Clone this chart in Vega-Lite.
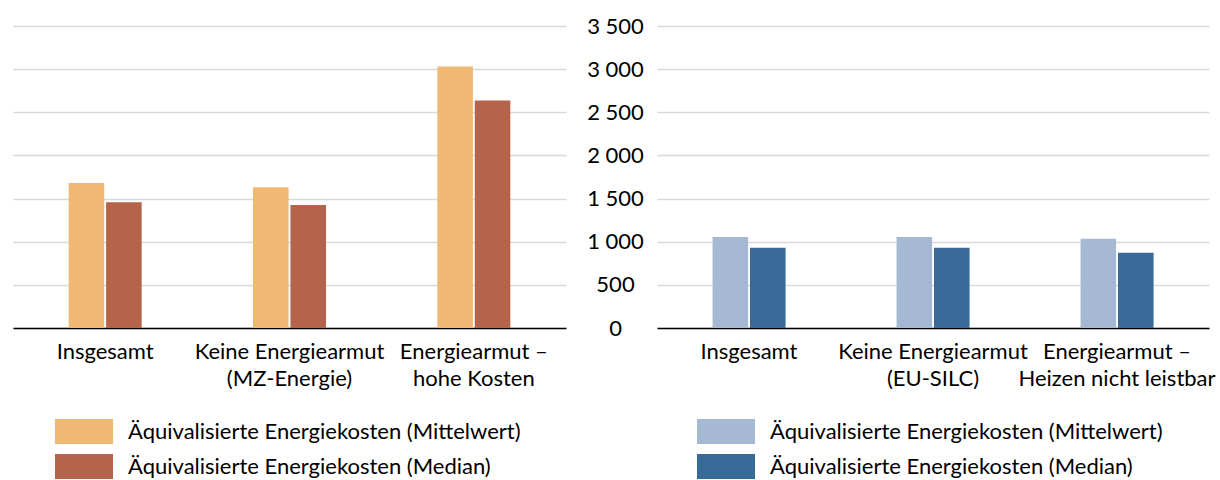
{
  "$schema": "https://vega.github.io/schema/vega-lite/v6.json",
  "padding": {"left": 13, "top": 15, "right": 5, "bottom": 0},
  "background": "white",
  "bounds": "flush",
  "spacing": 91,
  "config": {
    "view": {"stroke": null},
    "font": "Lato",
    "axis": {"labelFont": "Lato", "labelColor": "#000000", "labelFontSize": 22},
    "legend": {"labelFont": "Lato"}
  },
  "datasets": {
    "d": [
      {"panel": "MZ", "group": "Insgesamt", "series": "Äquivalisierte Energiekosten (Mittelwert)", "value": 1681},
      {"panel": "MZ", "group": "Insgesamt", "series": "Äquivalisierte Energiekosten (Median)", "value": 1457},
      {"panel": "MZ", "group": "Keine Energiearmut|(MZ-Energie)", "series": "Äquivalisierte Energiekosten (Mittelwert)", "value": 1630},
      {"panel": "MZ", "group": "Keine Energiearmut|(MZ-Energie)", "series": "Äquivalisierte Energiekosten (Median)", "value": 1426},
      {"panel": "MZ", "group": "Energiearmut –|hohe Kosten", "series": "Äquivalisierte Energiekosten (Mittelwert)", "value": 3030},
      {"panel": "MZ", "group": "Energiearmut –|hohe Kosten", "series": "Äquivalisierte Energiekosten (Median)", "value": 2637},
      {"panel": "SILC", "group": "Insgesamt", "series": "Äquivalisierte Energiekosten (Mittelwert)", "value": 1056},
      {"panel": "SILC", "group": "Insgesamt", "series": "Äquivalisierte Energiekosten (Median)", "value": 929},
      {"panel": "SILC", "group": "Keine Energiearmut|(EU-SILC)", "series": "Äquivalisierte Energiekosten (Mittelwert)", "value": 1056},
      {"panel": "SILC", "group": "Keine Energiearmut|(EU-SILC)", "series": "Äquivalisierte Energiekosten (Median)", "value": 929},
      {"panel": "SILC", "group": "Energiearmut –|Heizen nicht leistbar", "series": "Äquivalisierte Energiekosten (Mittelwert)", "value": 1033},
      {"panel": "SILC", "group": "Energiearmut –|Heizen nicht leistbar", "series": "Äquivalisierte Energiekosten (Median)", "value": 871}
    ]
  },
  "hconcat": [
    {
      "width": 553,
      "height": 302,
      "data": {"name": "d"},
      "transform": [{"filter": "datum.panel == 'MZ'"}],
      "mark": {"type": "bar"},
      "encoding": {
        "x": {
          "field": "group", "type": "nominal", "sort": null,
          "scale": {"paddingInner": 0.604, "paddingOuter": 0.302},
          "axis": {"title": null, "labelAngle": 0, "labelExpr": "split(datum.label, '|')", "ticks": false,
            "domainColor": "#000000", "domainWidth": 1.5, "labelPadding": 13, "labelLineHeight": 27,
            "labelLimit": 400, "labelOverlap": false, "grid": false}
        },
        "xOffset": {"field": "series", "type": "nominal", "sort": null, "scale": {"paddingInner": 0.05}},
        "y": {
          "field": "value", "type": "quantitative", "scale": {"domain": [0, 3500]},
          "axis": {"title": null, "labels": false, "ticks": false, "domain": false,
            "values": [0, 500, 1000, 1500, 2000, 2500, 3000, 3500], "gridColor": "#D9D9D9", "gridWidth": 1.5}
        },
        "color": {
          "field": "series", "type": "nominal",
          "scale": {"domain": ["Äquivalisierte Energiekosten (Mittelwert)", "Äquivalisierte Energiekosten (Median)"], "range": ["#EFB973", "#B5634A"]},
          "legend": {"orient": "none", "legendX": 42, "legendY": 391, "direction": "vertical", "title": null,
            "symbolType": "M-1,-0.86L3,-0.86L3,0.86L-1,0.86Z", "symbolSize": 841, "symbolStrokeWidth": 0,
            "labelFontSize": 22, "labelColor": "#000000", "labelOffset": 44, "labelLimit": 600, "padding": 0, "rowPadding": 8}
        }
      }
    },
    {
      "width": 552,
      "height": 302,
      "data": {"name": "d"},
      "transform": [{"filter": "datum.panel == 'SILC'"}],
      "mark": {"type": "bar"},
      "encoding": {
        "x": {
          "field": "group", "type": "nominal", "sort": null,
          "scale": {"paddingInner": 0.604, "paddingOuter": 0.302},
          "axis": {"title": null, "labelAngle": 0, "labelExpr": "split(datum.label, '|')", "ticks": false,
            "domainColor": "#000000", "domainWidth": 1.5, "labelPadding": 13, "labelLineHeight": 27,
            "labelLimit": 400, "labelOverlap": false, "grid": false}
        },
        "xOffset": {"field": "series", "type": "nominal", "sort": null, "scale": {"paddingInner": 0.05}},
        "y": {
          "field": "value", "type": "quantitative", "scale": {"domain": [0, 3500]},
          "axis": {"title": null, "ticks": false, "domain": false, "labelAlign": "center", "labelPadding": 42,
            "labelExpr": "replace(format(datum.value, ','), ',', ' ')",
            "values": [0, 500, 1000, 1500, 2000, 2500, 3000, 3500], "gridColor": "#D9D9D9", "gridWidth": 1.5}
        },
        "color": {
          "field": "series", "type": "nominal",
          "scale": {"domain": ["Äquivalisierte Energiekosten (Mittelwert)", "Äquivalisierte Energiekosten (Median)"], "range": ["#A6B9D3", "#386A98"]},
          "legend": {"orient": "none", "legendX": 40, "legendY": 391, "direction": "vertical", "title": null,
            "symbolType": "M-1,-0.86L3,-0.86L3,0.86L-1,0.86Z", "symbolSize": 841, "symbolStrokeWidth": 0,
            "labelFontSize": 22, "labelColor": "#000000", "labelOffset": 44, "labelLimit": 600, "padding": 0, "rowPadding": 8}
        }
      }
    }
  ],
  "resolve": {"scale": {"color": "independent"}, "legend": {"color": "independent"}}
}
